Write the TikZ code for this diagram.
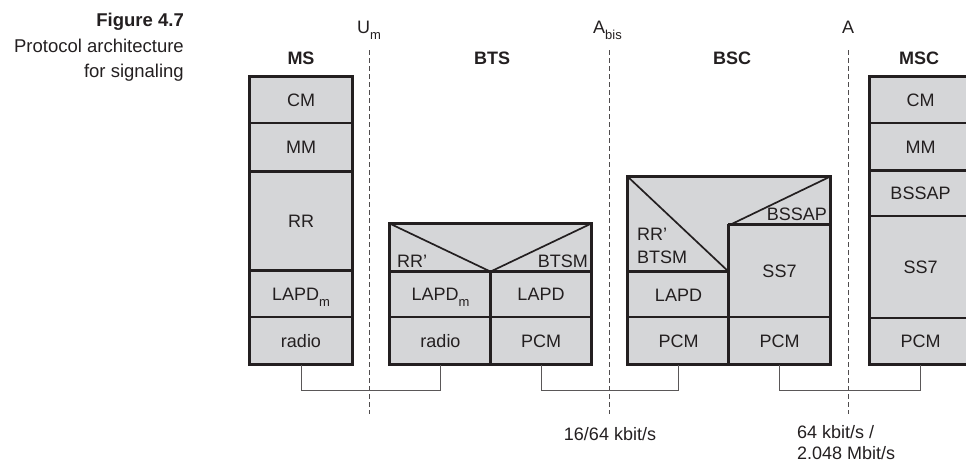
\documentclass[tikz,border=0pt]{standalone}
\usepackage{fontspec}
\setmainfont{Liberation Sans}
\definecolor{cellgray}{RGB}{213,214,216}
\definecolor{inkgray}{RGB}{35,31,32}
\newcommand{\lowsub}[1]{\raisebox{-6pt}{\fontsize{13}{13}\selectfont #1}}
\newcommand{\figfont}{\fontsize{18}{25}\selectfont}

\begin{document}
\begin{tikzpicture}[x=1pt, y=-1pt, font=\figfont, text=inkgray,
	layer/.style={draw=inkgray, fill=cellgray, line width=1.2pt, inner sep=0pt,
		text height=13pt, text depth=0pt},
	tag/.style={inner sep=0pt},
	diag/.style={draw=inkgray, line width=1.7pt},
	heavy/.style={draw=inkgray, line width=2.2pt},
	outer/.style={draw=inkgray, line width=2.6pt},
	iface/.style={draw=inkgray!80, line width=0.9pt, dash pattern=on 5pt off 3pt},
	link/.style={draw=inkgray!75, line width=0.8pt}]
	\useasboundingbox (0,0) rectangle (966,463);
	%caption
	\node[tag, anchor=north east, align=right, font=\fontsize{18.5}{25.5}\selectfont] (caption) at (184,13)
	{\textbf{Figure 4.7}\\Protocol architecture\\for signaling};
	%interfaces
	\foreach \x/\n in {369/um, 609/abis, 848/a}
	{
		\coordinate (\n top) at (\x,50);
		\coordinate (\n bot) at (\x,414);
		\draw[iface] (\n top) -- (\n bot);
	}
	\node[tag, anchor=base west] (umlabel) at (357,33) {U\lowsub{m}};
	\node[tag, anchor=base west] (abislabel) at (593,33) {A\lowsub{bis}};
	\node[tag, anchor=base] (alabel) at (848,33) {A};
	%entities
	\foreach \x/\n/\txt in {301/msname/MS, 492/btsname/BTS, 732/bscname/BSC, 919/mscname/MSC}
	\node[tag, anchor=base, font=\figfont\bfseries] (\n) at (\x,64) {\txt};
	%MS
	\foreach \n/\txt/\ya/\yb in {
		mscm/CM/77/123,
		msmm/MM/123/171,
		msrr/RR/171/270,
		mslapd/LAPD\lowsub{m}/270/317,
		msradio/radio/317/364}
	\node[layer, minimum width=102, minimum height=\yb-\ya] (\n) at (301,{(\ya+\yb)/2}) {\txt};
	%BTS
	\node[layer, minimum width=201, minimum height=47] (btstop) at (490.5,247.5) {};
	\draw[diag] (btstop.north west) -- (btstop.south) -- (btstop.north east);
	\node[tag, anchor=base west] (btsrr) at (397,267) {RR’};
	\node[tag, anchor=base east] (btsbtsm) at (588,267) {BTSM};
	\node[layer, minimum width=101, minimum height=46] (btslapdm) at (440.5,294) {LAPD\lowsub{m}};
	\node[layer, minimum width=100, minimum height=46] (btslapd) at (541,294) {LAPD};
	\node[layer, minimum width=101, minimum height=47] (btsradio) at (440.5,340.5) {radio};
	\node[layer, minimum width=100, minimum height=47] (btspcm) at (541,340.5) {PCM};
	%BSC
	\node[layer, draw=none, minimum width=101, minimum height=95] (bscrr) at (678.5,224.5) {};
	\node[layer, draw=none, minimum width=101, minimum height=48] (bscbssap) at (779.5,201) {};
	\draw[diag] (bscrr.north west) -- (bscrr.south east);
	\draw[diag] (bscbssap.south west) -- (bscbssap.north east);
	\node[tag, anchor=base west] (bscrrtag) at (637,240) {RR’};
	\node[tag, anchor=base west] (bscbtsm) at (637,263) {BTSM};
	\node[tag, anchor=base east] (bscbssaptag) at (827,220) {BSSAP};
	\node[layer, minimum width=101, minimum height=45] (bsclapd) at (678.5,294.5) {LAPD};
	\node[layer, minimum width=101, minimum height=92] (bscss) at (779.5,271) {SS7};
	\node[layer, minimum width=101, minimum height=47] (bscpcml) at (678.5,340.5) {PCM};
	\node[layer, minimum width=101, minimum height=47] (bscpcmr) at (779.5,340.5) {PCM};
	%MSC
	\foreach \n/\txt/\ya/\yb in {
		msccm/CM/77/123,
		mscmm/MM/123/170,
		mscbssap/BSSAP/170/216,
		mscss/SS7/216/318,
		mscpcm/PCM/318/364}
	\node[layer, minimum width=101, minimum height=\yb-\ya] (\n) at (920.5,{(\ya+\yb)/2}) {\txt};
	%heavy rules
	\draw[heavy] (msmm.south west) -- (msmm.south east);
	\draw[heavy] (msrr.south west) -- (msrr.south east);
	\draw[heavy] (btstop.south west) -- (btstop.south east);
	\draw[heavy] (btslapd.north west) -- (btspcm.south west);
	\draw[heavy] (bsclapd.north west) -- (bsclapd.north east);
	\draw[heavy] (bscss.north west) -- (bscss.north east);
	\draw[heavy] (bscss.north west) -- (bscpcmr.south west);
	\draw[heavy] (mscmm.south west) -- (mscmm.south east);
	%outer boxes
	\draw[outer] (mscm.north west) rectangle (msradio.south east);
	\draw[outer] (btstop.north west) rectangle (btspcm.south east);
	\draw[outer] (bscrr.north west) rectangle (bscpcmr.south east);
	\draw[outer] (msccm.north west) rectangle (mscpcm.south east);
	%links
	\draw[link] (msradio.south) -- ++(0,26) -| (btsradio.south);
	\draw[link] (btspcm.south) -- ++(0,26) -| (bscpcml.south);
	\draw[link] (bscpcmr.south) -- ++(0,26) -| (mscpcm.south);
	%rates
	\node[tag, anchor=base] (abisrate) at (610,440) {16/64 kbit/s};
	\node[tag, anchor=north west, align=left, font=\fontsize{18}{21}\selectfont] (arate) at (797,425) {64 kbit/s /\\2.048 Mbit/s};
\end{tikzpicture}
\end{document}
